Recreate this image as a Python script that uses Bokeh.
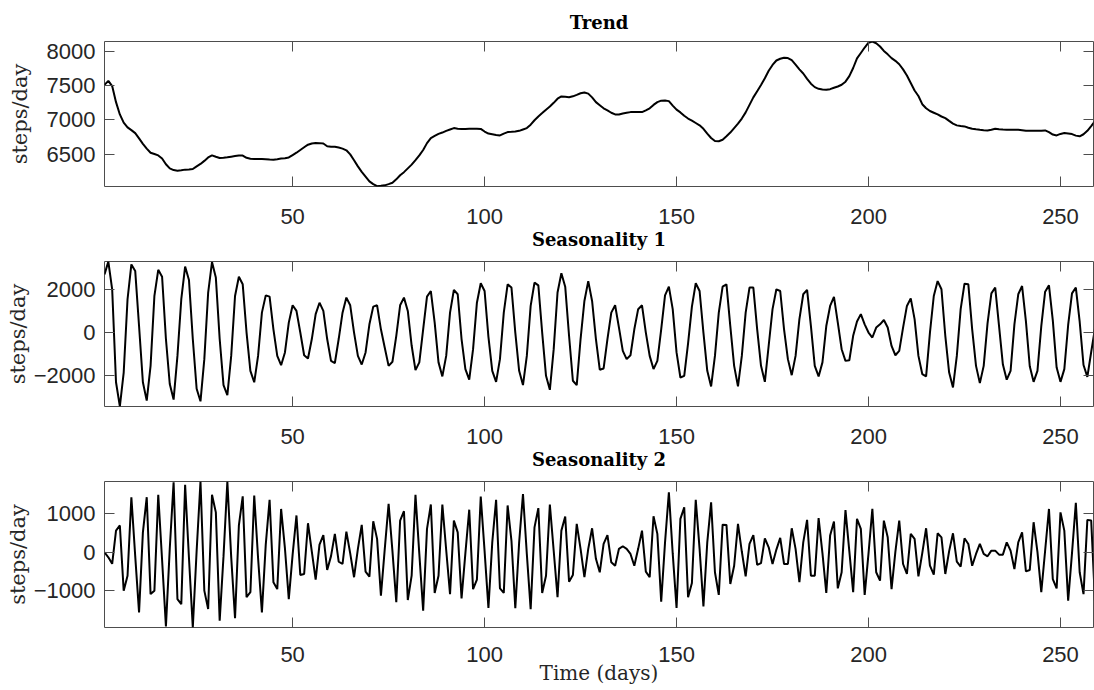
from bokeh.plotting import figure
from bokeh.models import Range1d, LinearAxis, FixedTicker, Title
from bokeh.layouts import column
from bokeh.embed import file_html
from bokeh.resources import INLINE

days = list(range(1, 260))

trend = [
    7513, 7572, 7495, 7260, 7080, 6960, 6890, 6850, 6807, 6730,
    6650, 6580, 6520, 6500, 6480, 6435, 6350, 6290, 6265, 6257,
    6262, 6272, 6275, 6281, 6320, 6355, 6400, 6450, 6481, 6460,
    6442, 6445, 6452, 6462, 6470, 6478, 6478, 6445, 6430, 6428,
    6428, 6427, 6425, 6420, 6418, 6425, 6434, 6440, 6450, 6485,
    6520, 6560, 6600, 6637, 6655, 6661, 6660, 6654, 6615, 6608,
    6607, 6595, 6580, 6555, 6495, 6410, 6320, 6240, 6170, 6100,
    6060, 6030, 6035, 6042, 6060, 6080, 6130, 6190, 6235, 6290,
    6345, 6410, 6480, 6560, 6660, 6734, 6765, 6795, 6815, 6840,
    6860, 6880, 6872, 6866, 6868, 6870, 6870, 6870, 6868, 6830,
    6800, 6790, 6780, 6773, 6800, 6822, 6825, 6830, 6840, 6860,
    6880, 6930, 6995, 7051, 7100, 7150, 7195, 7250, 7310, 7343,
    7338, 7333, 7345, 7367, 7390, 7401, 7385, 7330, 7260, 7215,
    7170, 7140, 7105, 7080, 7080, 7095, 7105, 7114, 7114, 7114,
    7114, 7140, 7170, 7220, 7260, 7282, 7284, 7275, 7210, 7150,
    7110, 7060, 7020, 6990, 6955, 6920, 6870, 6800, 6735, 6690,
    6688, 6710, 6760, 6815, 6880, 6945, 7020, 7110, 7220, 7330,
    7420, 7510, 7610, 7720, 7805, 7870, 7895, 7910, 7905, 7875,
    7810, 7740, 7680, 7600, 7530, 7480, 7455, 7445, 7440, 7450,
    7470, 7489, 7515, 7560, 7640, 7760, 7900, 7980, 8060, 8130,
    8146, 8122, 8075, 8010, 7960, 7905, 7865, 7815, 7740, 7650,
    7540, 7430, 7350, 7230, 7170, 7130, 7105, 7080, 7050, 7026,
    6985, 6945, 6920, 6910, 6905, 6885, 6870, 6862, 6855, 6850,
    6846, 6855, 6870, 6862, 6858, 6856, 6856, 6856, 6856, 6850,
    6842, 6841, 6841, 6841, 6843, 6846, 6820, 6785, 6773, 6795,
    6807, 6800, 6792, 6770, 6760, 6790, 6840, 6910, 6985,
]

season1 = [
    2690, 3280, 2000, -2300, -3415, -1850, 1540, 3150, 2850, 300,
    -2300, -3150, -1540, 1700, 2900, 2580, -300, -2380, -3100, -1080,
    1540, 3050, 2430, -300, -2600, -3180, -1230, 1850, 3260, 2540,
    -300, -2430, -2890, -1080, 1690, 2580, 2230, 0, -1770, -2300,
    -1080, 920, 1720, 1660, 150, -1080, -1510, -920, 460, 1260,
    1000, 0, -1050, -1200, -300, 850, 1380, 1000, -300, -1310,
    -1410, -300, 920, 1615, 1260, 0, -1080, -1480, -920, 380,
    1200, 1260, 150, -700, -1540, -1350, -150, 1260, 1615, 1000,
    -600, -1740, -1380, 150, 1660, 1920, 460, -1380, -2030, -1080,
    920, 1970, 1770, -300, -1690, -2180, -770, 1380, 2280, 1920,
    -200, -1770, -2280, -1230, 920, 2230, 2080, 0, -1770, -2430,
    -1080, 1230, 2310, 2180, 0, -2000, -2650, -770, 1850, 2740,
    2120, -150, -2230, -2430, -300, 1460, 2380, 1460, -300, -1720,
    -1660, -300, 920, 1260, 230, -850, -1230, -1050, 150, 1080,
    1260, 0, -1080, -1690, -1310, 150, 1720, 2120, 1080, -920,
    -2080, -2000, -500, 1200, 2280, 1920, 0, -1770, -2490, -1080,
    920, 2120, 2230, 300, -1540, -2490, -1080, 920, 2080, 2080,
    150, -1540, -2280, -600, 1080, 2000, 1920, 150, -1230, -1970,
    -1080, 620, 1770, 1970, 300, -1540, -2030, -1380, 300, 1230,
    1650, 460, -770, -1310, -1280, -150, 510, 850, 380, 0,
    -230, 230, 380, 580, 230, -620, -1050, -850, 230, 1230,
    1580, 620, -1080, -1920, -2030, 0, 1690, 2380, 2000, -150,
    -1850, -2540, -1080, 1080, 2260, 2230, 150, -1540, -2340, -1540,
    420, 1810, 2080, 300, -1480, -2180, -1770, 380, 1770, 2150,
    520, -1560, -2280, -1770, 300, 1890, 2180, 560, -1620, -2280,
    -1690, 350, 1810, 2080, 500, -1500, -2050, -900, 200,
]

season2 = [
    0, -130, -300, 565, 700, -1000, -610, 1435, -100, -1565,
    520, 1435, -1090, -1000, 1500, -200, -1930, 100, 1826, -1220,
    -1350, 1757, -150, -1957, 40, 1843, -1000, -1480, 1500, 1040,
    -1780, -100, 1843, -120, -1720, 700, 1460, -1170, -1040, 1480,
    -150, -1565, 200, 1370, -780, -960, 1130, 100, -1220, -60,
    960, -590, -565, 757, 20, -713, 200, 450, -460, -100,
    480, -245, -305, 540, -30, -650, 90, 713, -505, -635,
    810, 350, -1130, 90, 1260, 30, -1300, 826, 1070, -1245,
    -610, 1500, -40, -1520, 610, 1245, -1060, -610, 1245, 60,
    -1090, 826, 520, -1200, -20, 1110, -960, -713, 1450, 30,
    -1450, 260, 1370, -940, -1060, 1220, 300, -1460, 260, 1520,
    -40, -1480, 650, 1150, -1060, -610, 1245, 40, -1170, 565,
    930, -765, -590, 740, 90, -650, 90, 626, -170, -520,
    217, 450, -260, -350, 90, 157, 90, -43, -350, 90,
    565, -505, -650, 940, 480, -1290, 260, 1565, -30, -1450,
    870, 1170, -1170, -800, 1370, 90, -1410, 260, 1300, -520,
    -1110, 720, 713, -826, -350, 740, 20, -626, 217, 450,
    -330, -280, 365, 130, -305, 70, 375, -305, -305, 626,
    90, -780, 260, 845, -610, -610, 890, -20, -1060, 435,
    800, -940, -520, 1100, 30, -1040, 870, 610, -1110, -30,
    1130, -520, -740, 826, 390, -960, 20, 826, -305, -565,
    480, 350, -626, -20, 626, -350, -583, 496, 390, -565,
    30, 496, -243, -374, 365, 217, -350, -43, 217, -43,
    -104, 43, 43, -61, -61, 260, 43, -435, 260, 520,
    -496, -460, 783, 10, -1040, 40, 1130, -700, -940, 1040,
    565, -1260, -20, 1290, -520, -1090, 845, 826, -1300,
]

x_ticks = [50, 100, 150, 200, 250]
trend_ticks = [6500, 7000, 7500, 8000]
s1_ticks = [-2000, 0, 2000]
s2_ticks = [-1000, 0, 1000]
titles = ["Trend", "Seasonality 1", "Seasonality 2"]
y_label = "steps/day"
x_label = "Time (days)"

AX = "#262626"
FRAME = "#4d4d4d"
SERIF = "DejaVu Serif"
SANS = "Liberation Sans"
TICK_SIZE = "22px"


def style_axis(ax, labels=True):
    ax.major_tick_in = 10
    ax.major_tick_out = 0
    ax.minor_tick_line_color = None
    ax.axis_line_color = None
    ax.major_tick_line_color = FRAME
    ax.major_tick_line_width = 1
    if labels:
        ax.major_label_text_font = SANS
        ax.major_label_text_font_size = TICK_SIZE
        ax.major_label_text_color = AX
    else:
        ax.major_label_text_font_size = "0px"
        ax.major_label_standoff = 0


def title_style(t, standoff):
    t.align = "center"
    t.text_font = SERIF
    t.text_font_style = "bold"
    t.text_font_size = "18px"
    t.text_color = "black"
    t.standoff = standoff


def make(yvals, yr, yticks, height, top, bottom, ystand, xstand=22,
         top_title=None, below_title=None, xlab=None):
    p = figure(width=1094, height=height, x_range=Range1d(1, 258.6),
               y_range=Range1d(*yr), output_backend="svg",
               toolbar_location=None, min_border_left=104,
               min_border_right=1, min_border_top=top,
               min_border_bottom=bottom)
    p.line(days, yvals, line_color="black", line_width=2)
    p.grid.visible = False
    p.outline_line_color = FRAME
    p.outline_line_width = 1
    p.background_fill_color = "white"
    p.border_fill_color = "white"
    if top_title:
        p.title.text = top_title
        title_style(p.title, 18)
    else:
        p.title.visible = False

    p.xaxis.ticker = FixedTicker(ticks=x_ticks)
    p.yaxis.ticker = FixedTicker(ticks=yticks)
    style_axis(p.xaxis[0])
    style_axis(p.yaxis[0])
    p.xaxis.major_label_standoff = xstand
    p.yaxis.major_label_standoff = 9
    p.yaxis.axis_label = y_label
    p.yaxis.axis_label_text_font = SERIF
    p.yaxis.axis_label_text_font_style = "normal"
    p.yaxis.axis_label_text_font_size = "21px"
    p.yaxis.axis_label_text_color = AX
    p.yaxis.axis_label_standoff = ystand
    if xlab:
        p.xaxis.axis_label = xlab
        p.xaxis.axis_label_text_font = SERIF
        p.xaxis.axis_label_text_font_style = "normal"
        p.xaxis.axis_label_text_font_size = "20px"
        p.xaxis.axis_label_text_color = AX
        p.xaxis.axis_label_standoff = -4

    top_ax = LinearAxis(ticker=FixedTicker(ticks=x_ticks))
    style_axis(top_ax, labels=False)
    p.add_layout(top_ax, "above")
    right_ax = LinearAxis(ticker=FixedTicker(ticks=yticks))
    style_axis(right_ax, labels=False)
    p.add_layout(right_ax, "right")
    if below_title:
        t = Title(text=below_title)
        title_style(t, 0)
        p.add_layout(t, "below")
    return p


p1 = make(trend, (6025, 8148), trend_ticks, 258, 41, 72, 12,
          top_title=titles[0], below_title=titles[1])
p2 = make(season1, (-3420, 3285), s1_ticks, 220, 3, 72, 1,
          below_title=titles[2])
p3 = make(season2, (-1960, 1845), s2_ticks, 212, 3, 63, 1, xstand=19,
          xlab=x_label)

layout = column(p1, p2, p3, spacing=0)
open("out.html", "w").write(file_html(layout, INLINE))
